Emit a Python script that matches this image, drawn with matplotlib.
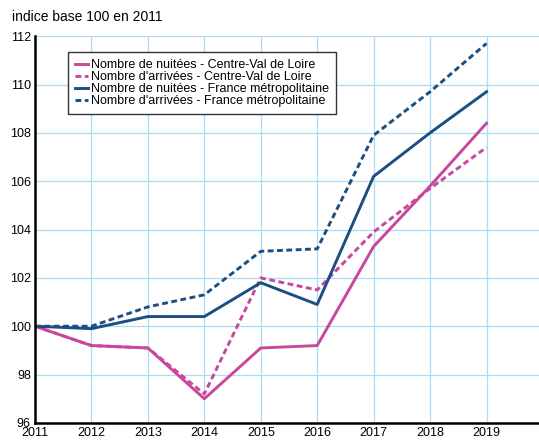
import matplotlib.pyplot as plt

plt.rcParams['font.family'] = ['Liberation Sans', 'DejaVu Sans']

# données (indice base 100 en 2011)
annees = [2011, 2012, 2013, 2014, 2015, 2016, 2017, 2018, 2019]
nuitees_cvl = [100, 99.2, 99.1, 97.0, 99.1, 99.2, 103.3, 105.8, 108.4]
arrivees_cvl = [100, 99.2, 99.1, 97.2, 102.0, 101.5, 103.9, 105.7, 107.4]
nuitees_fr = [100, 99.9, 100.4, 100.4, 101.8, 100.9, 106.2, 108.0, 109.7]
arrivees_fr = [100, 100.0, 100.8, 101.3, 103.1, 103.2, 107.9, 109.7, 111.7]

rose = '#c9479b'
bleu = '#1b4f82'

fig = plt.figure(figsize=(5.39, 4.41), dpi=100)
ax = fig.add_axes([0.065, 0.041, 0.935, 0.877])

ax.plot(annees, nuitees_cvl, color=rose, lw=2.1, label='Nombre de nuitées - Centre-Val de Loire')
ax.plot(annees, arrivees_cvl, color=rose, lw=2.1, ls=(0, (2, 1.2)), label="Nombre d'arrivées - Centre-Val de Loire")
ax.plot(annees, nuitees_fr, color=bleu, lw=2.1, label='Nombre de nuitées - France métropolitaine')
ax.plot(annees, arrivees_fr, color=bleu, lw=2.1, ls=(0, (2, 1.2)), label="Nombre d'arrivées - France métropolitaine")

ax.set_xlim(2011, 2019.93)
ax.set_ylim(96, 112)
ax.set_xticks(annees)
ax.set_yticks(range(96, 113, 2))
ax.grid(True, color='#aadcf4', lw=0.9)
ax.set_axisbelow(True)
ax.tick_params(labelsize=9, length=0)
ax.tick_params(axis='x', pad=3)
ax.tick_params(axis='y', pad=3)
for s in ['top', 'right']:
    ax.spines[s].set_visible(False)
for s in ['left', 'bottom']:
    ax.spines[s].set_linewidth(1.8)
    ax.spines[s].set_color('black')

leg = ax.legend(loc='upper left', bbox_to_anchor=(0.066, 0.959), fontsize=9,
                handlelength=1.0, handletextpad=0.3, labelspacing=0.0,
                borderpad=0.55, borderaxespad=0, fancybox=False, framealpha=1)
leg.get_frame().set_edgecolor('#333333')
leg.get_frame().set_linewidth(1.0)

fig.text(0.022, 0.962, 'indice base 100 en 2011', fontsize=10, va='center')

fig.savefig('out.png', dpi=100)
